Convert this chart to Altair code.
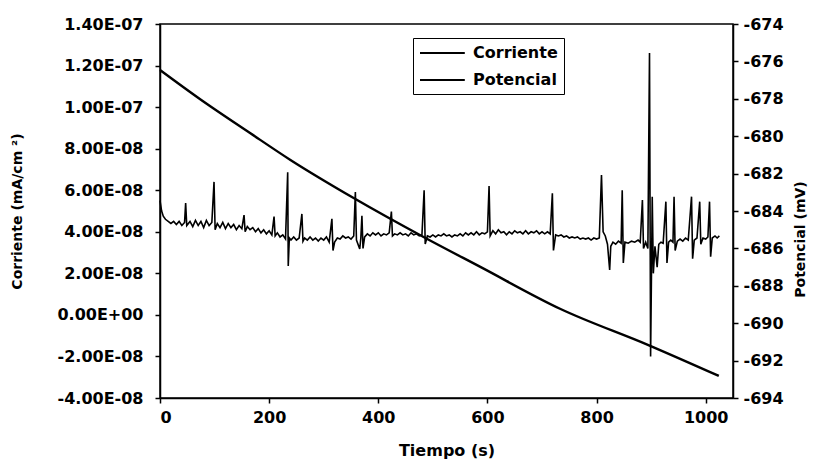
import altair as alt
import pandas as pd

# Potencial (mV), smooth curve, right axis
tiempo_pot = [0, 73, 165, 239, 358, 483, 587, 734, 895, 1024]
potencial = [-676.46, -678.01, -679.83, -681.27, -683.36, -685.39, -686.99, -689.24, -691.17, -692.82]

# Corriente (mA/cm2), noisy trace with spikes, left axis (values in units of 1E-08)
tiempo_cor = [
    0, 3, 6, 10, 15, 20, 25, 30, 35, 40, 45, 47, 49, 55, 60, 65, 70, 75, 80, 85, 90, 95, 99, 101,
    105, 110, 115, 120, 125, 130, 135, 140, 145, 150, 154, 156, 160, 165, 170, 175, 180, 185, 190,
    195, 200, 205, 209, 211, 215, 220, 225, 230, 234, 235, 237, 240, 245, 250, 255, 260, 262, 265,
    270, 275, 280, 285, 290, 295, 300, 305, 310, 315, 317, 320, 325, 330, 335, 340, 345, 350, 355,
    358, 360, 366, 368, 370, 372, 375, 380, 385, 390, 395, 400, 405, 410, 415, 420, 424, 426, 430,
    435, 440, 445, 450, 455, 460, 465, 470, 475, 480, 484, 486, 490, 495, 500, 505, 510, 515, 520,
    525, 530, 535, 540, 545, 550, 555, 560, 565, 570, 575, 580, 585, 590, 595, 600, 603, 605, 610,
    615, 620, 625, 630, 635, 640, 645, 650, 655, 660, 665, 670, 675, 680, 685, 690, 695, 700, 705,
    710, 715, 719, 721, 725, 730, 735, 740, 745, 750, 755, 760, 765, 770, 775, 780, 785, 790, 795,
    800, 805, 809, 812, 816, 820, 824, 826, 830, 835, 840, 845, 847, 849, 852, 858, 864, 870, 876,
    880, 884, 886, 890, 894, 897, 899, 901, 902, 904, 907, 911, 914, 918, 922, 927, 929, 932, 936,
    940, 942, 944, 948, 953, 958, 963, 968, 974, 976, 979, 984, 989, 991, 995, 1000, 1004, 1007,
    1009, 1012, 1017, 1021, 1025,
]
corriente_e8 = [
    5.5, 5.0, 4.75, 4.6, 4.5, 4.4, 4.5, 4.35, 4.5, 4.3, 4.45, 5.38, 4.3, 4.5, 4.25, 4.55, 4.3, 4.5, 4.2, 4.55, 4.3, 4.45, 6.4, 4.1,
    4.4, 4.2, 4.45, 4.15, 4.4, 4.2, 4.35, 4.1, 4.3, 4.15, 4.8, 4.0, 4.25, 4.1, 4.2, 4.0, 4.15, 3.95, 4.1,
    3.9, 4.05, 3.85, 4.73, 3.8, 3.95, 3.75, 3.85, 3.65, 6.86, 2.35, 3.7, 3.6, 3.75, 3.6, 3.7, 4.86, 3.55, 3.7,
    3.6, 3.75, 3.6, 3.7, 3.55, 3.7, 3.6, 3.75, 3.5, 4.62, 3.1, 3.5, 3.7, 3.65, 3.8, 3.7, 3.75, 3.65, 3.8,
    5.91, 3.6, 3.17, 3.7, 4.77, 3.2, 3.75, 3.9, 3.8, 3.95, 3.85, 3.95, 3.8, 3.9, 3.85, 3.95, 4.97, 3.8, 3.9,
    3.85, 3.95, 3.85, 3.9, 3.8, 3.95, 3.85, 3.9, 3.8, 3.85, 6.0, 3.41, 3.8, 3.75, 3.85, 3.75, 3.85, 3.8, 3.9,
    3.8, 3.85, 3.75, 3.85, 3.8, 3.9, 3.8, 3.95, 3.85, 3.95, 3.85, 4.0, 3.85, 3.95, 3.9, 4.0, 6.2, 3.8, 4.05,
    3.9, 4.1, 3.95, 4.0, 3.85, 4.0, 3.9, 4.05, 3.95, 4.0, 3.9, 4.05, 3.9, 4.0, 3.95, 4.05, 3.9, 4.0, 3.9,
    4.0, 3.9, 5.85, 3.1, 3.85, 3.8, 3.85, 3.75, 3.8, 3.7, 3.75, 3.7, 3.75, 3.65, 3.7, 3.65, 3.7, 3.6, 3.7,
    3.65, 3.7, 6.73, 4.0, 3.8, 3.4, 2.16, 3.3, 3.5, 3.4, 3.55, 3.45, 6.0, 2.5, 3.5, 3.45, 3.55, 3.5, 3.6,
    3.5, 5.53, 3.2, 3.5, 3.2, 12.6, -2.0, 3.0, 5.69, 2.0, 3.3, 2.3, 3.4, 3.5, 3.45, 5.45, 2.5, 3.5, 3.6,
    3.5, 5.69, 3.1, 3.55, 3.65, 3.55, 3.7, 3.6, 5.69, 2.7, 3.6, 3.7, 5.45, 3.4, 3.7, 3.65, 3.75, 5.45,
    2.8, 3.7, 3.8, 3.7, 3.8,
]

x_ticks = [0, 200, 400, 600, 800, 1000]
left_ticks = [-4e-08, -2e-08, 0.0, 2e-08, 4e-08, 6e-08, 8e-08, 1e-07, 1.2e-07, 1.4e-07]
right_ticks = [-694, -692, -690, -688, -686, -684, -682, -680, -678, -676, -674]
series = ["Corriente", "Potencial"]

df_cor = pd.DataFrame({"t": tiempo_cor, "v": [c * 1e-08 for c in corriente_e8], "serie": series[0]})
df_pot = pd.DataFrame({"t": tiempo_pot, "v": potencial, "serie": series[1]})

FONT = "DejaVu Sans"

exp = "floor(log(abs(datum.value))/LN10 + 1e-9)"
left_label = (
    "abs(datum.value) < 1e-15 ? '0.00E+00' : "
    "((datum.value < 0 ? '-' : '') + format(abs(datum.value) / pow(10, " + exp + "), '.2f') + 'E' + "
    "(" + exp + " < 0 ? '-' : '+') + (abs(" + exp + ") < 10 ? '0' : '') + abs(" + exp + "))"
)

x_enc = alt.X(
    "t:Q",
    scale=alt.Scale(domain=[0, 1050], nice=False, zero=False),
    axis=alt.Axis(
        values=x_ticks, labelExpr="'' + datum.value", title="Tiempo (s)", grid=False,
        tickSize=5, labelPadding=6,
        labelFont=FONT, labelFontSize=16, labelFontWeight="bold", labelColor="black",
        titleFont=FONT, titleFontSize=16, titleFontWeight="bold", titleColor="black",
        titleY=52, titleBaseline="middle",
        domainColor="black", domainWidth=1.5, tickColor="black", tickWidth=1.5,
    ),
)

color_enc = alt.Color(
    "serie:N",
    scale=alt.Scale(domain=series, range=["black", "black"]),
    legend=alt.Legend(
        title=None, orient="none", legendX=253, legendY=14,
        strokeColor="black", fillColor="white", padding=6,
        symbolType="M-1,0H4.6", symbolSize=256, symbolStrokeWidth=2,
        labelFont=FONT, labelFontSize=16, labelFontWeight="bold", labelColor="black",
        rowPadding=10, labelOffset=36,
    ),
)

cor = alt.Chart(df_cor).mark_line(strokeWidth=1.6).encode(
    x=x_enc,
    y=alt.Y(
        "v:Q",
        scale=alt.Scale(domain=[-4e-08, 1.4e-07], nice=False, zero=False),
        axis=alt.Axis(
            orient="left", values=left_ticks, labelExpr=left_label, grid=False,
            title="Corriente (mA/cm ²)", tickSize=5, labelPadding=12,
            labelFont=FONT, labelFontSize=16, labelFontWeight="bold", labelColor="black",
            titleFont=FONT, titleFontSize=14, titleFontWeight="bold", titleColor="black",
            titleAngle=270, titleX=-143, titleY=187, titleAlign="center", titleBaseline="middle",
            domainColor="black", domainWidth=1.5, tickColor="black", tickWidth=1.5,
        ),
    ),
    color=color_enc,
)

pot = alt.Chart(df_pot).mark_line(strokeWidth=2.4, interpolate="monotone").encode(
    x=x_enc,
    y=alt.Y(
        "v:Q",
        scale=alt.Scale(domain=[-694, -674], nice=False, zero=False),
        axis=alt.Axis(
            orient="right", values=right_ticks, labelExpr="'' + datum.value", grid=False,
            title="Potencial (mV)", tickSize=5, labelPadding=5,
            labelFont=FONT, labelFontSize=16, labelFontWeight="bold", labelColor="black",
            titleFont=FONT, titleFontSize=14, titleFontWeight="bold", titleColor="black",
            titleAngle=270, titleX=67, titleY=215, titleAlign="center", titleBaseline="middle",
            domainColor="black", domainWidth=1.5, tickColor="black", tickWidth=1.5,
        ),
    ),
    color=color_enc,
)

chart = (
    alt.layer(cor, pot)
    .resolve_scale(y="independent")
    .properties(
        width=573, height=374,
        autosize=alt.AutoSizeParams(type="none"),
        padding={"left": 152, "top": 16, "right": 78, "bottom": 62},
        background="white",
    )
    .configure_view(stroke="black", strokeWidth=1.5)
)

chart.save("out.html", embed_options={"renderer": "svg", "actions": False})
